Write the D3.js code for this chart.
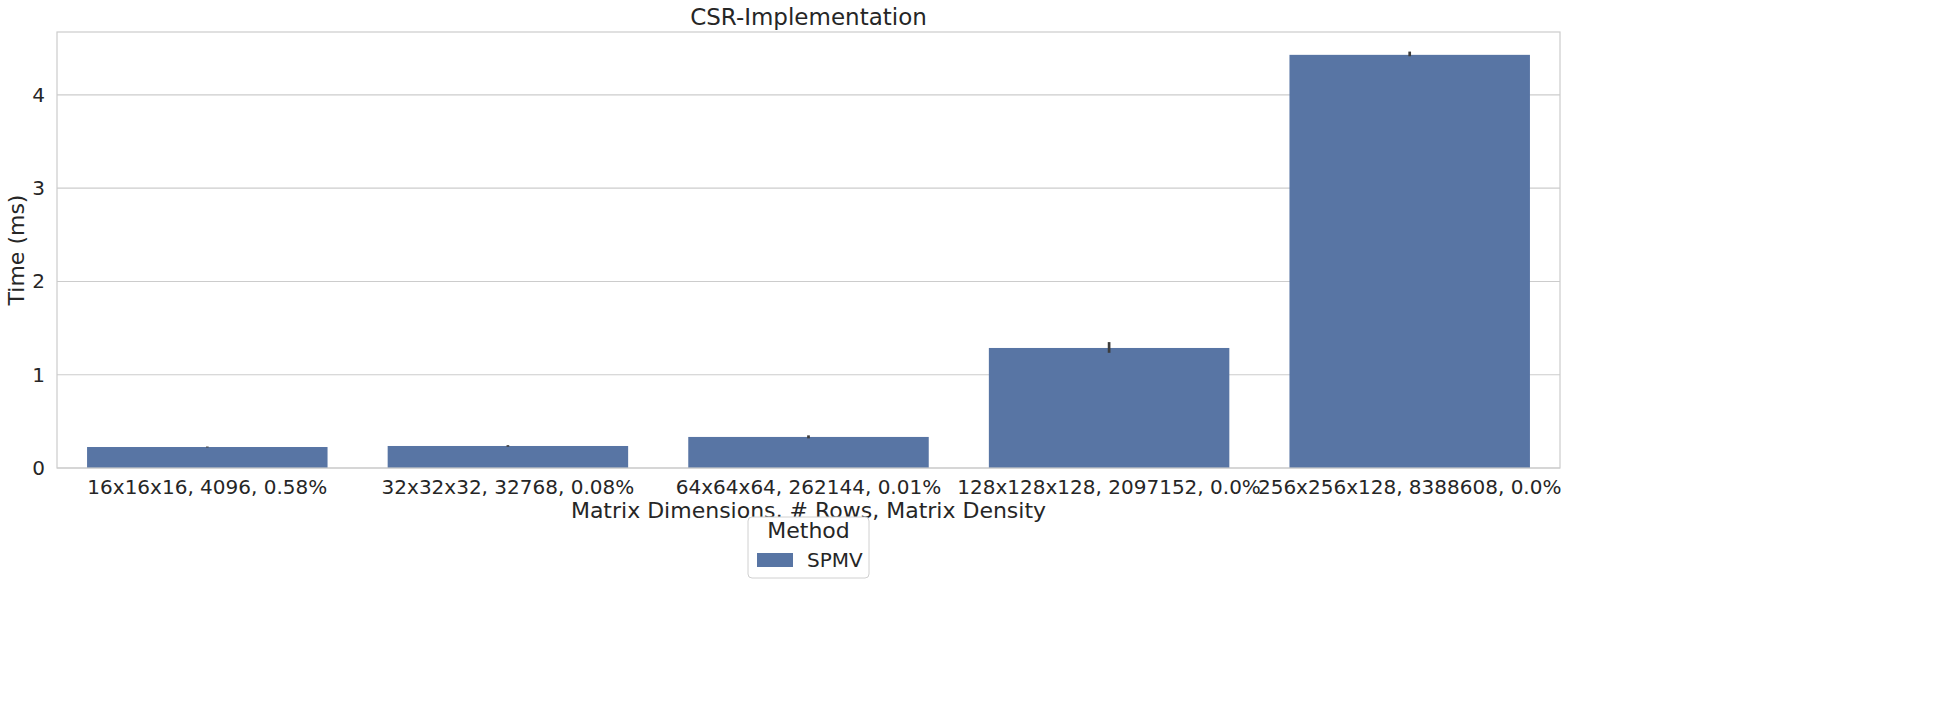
<!DOCTYPE html>
<html><head><meta charset="utf-8">
<script src="https://cdn.jsdelivr.net/npm/d3@7"></script>
<style>body{margin:0;background:#fff;font-family:"DejaVu Sans",sans-serif;}</style>
</head><body><div id="chart"></div>
<script>
// values
const categories = ["16x16x16, 4096, 0.58%", "32x32x32, 32768, 0.08%", "64x64x64, 262144, 0.01%",
  "128x128x128, 2097152, 0.0%", "256x256x128, 8388608, 0.0%"];
const times = [0.225, 0.236, 0.333, 1.287, 4.43];
const errLow = [0.22, 0.228, 0.318, 1.235, 4.415];
const errHigh = [0.23, 0.245, 0.35, 1.35, 4.465];
const yTicks = [0, 1, 2, 3, 4];

const width = 1939, height = 725,
  margin = { top: 32, right: 379, bottom: 257, left: 57 },
  plotW = 1560 - margin.left, plotH = 468 - margin.top,
  barColor = "#5875a4";

const svg = d3.select("#chart").append("svg")
  .attr("width", width).attr("height", height);
const g = svg.append("g").attr("transform", `translate(${margin.left},${margin.top})`);

const x = d3.scaleBand().domain(categories).range([0, plotW]).paddingInner(0.2).paddingOuter(0.1);
const y = d3.scaleLinear().domain([0, 4.675]).range([plotH, 0]);

// grid
g.selectAll(".grid").data(yTicks).enter().append("line")
  .attr("x1", 0).attr("x2", plotW)
  .attr("y1", d => y(d)).attr("y2", d => y(d))
  .attr("stroke", "#cccccc").attr("stroke-width", 1.2);

g.selectAll(".bar").data(times).enter().append("rect")
  .attr("x", (d, i) => x(categories[i]))
  .attr("width", x.bandwidth())
  .attr("y", d => y(d)).attr("height", d => plotH - y(d))
  .attr("fill", barColor);

g.selectAll(".err").data(times).enter().append("line")
  .attr("x1", (d, i) => x(categories[i]) + x.bandwidth() / 2)
  .attr("x2", (d, i) => x(categories[i]) + x.bandwidth() / 2)
  .attr("y1", (d, i) => y(errLow[i])).attr("y2", (d, i) => y(errHigh[i]))
  .attr("stroke", "#3d3d3d").attr("stroke-width", 2.7);

// frame
g.append("rect").attr("width", plotW).attr("height", plotH)
  .attr("fill", "none").attr("stroke", "#cccccc").attr("stroke-width", 1.2);

const yAxis = g.append("g").call(d3.axisLeft(y).tickValues(yTicks).tickFormat(d3.format("d")).tickSize(0).tickPadding(12));
const xAxis = g.append("g").attr("transform", `translate(0,${plotH})`)
  .call(d3.axisBottom(x).tickSize(0).tickPadding(12));
[yAxis, xAxis].forEach(a => {
  a.select(".domain").remove();
  a.selectAll("text").attr("font-size", 20).attr("fill", "#262626").attr("font-family", "DejaVu Sans");
});

svg.append("text").attr("x", margin.left + plotW / 2).attr("y", 25)
  .attr("text-anchor", "middle").attr("font-size", 23).attr("fill", "#262626").text("CSR-Implementation");
svg.append("text").attr("x", margin.left + plotW / 2).attr("y", 518)
  .attr("text-anchor", "middle").attr("font-size", 22).attr("fill", "#262626")
  .text("Matrix Dimensions, # Rows, Matrix Density");
svg.append("text").attr("transform", `translate(24,${margin.top + plotH / 2}) rotate(-90)`)
  .attr("text-anchor", "middle").attr("font-size", 22).attr("fill", "#262626").text("Time (ms)");

// legend
const lg = svg.append("g").attr("transform", "translate(748,517)");
lg.append("rect").attr("width", 121).attr("height", 61).attr("rx", 4)
  .attr("fill", "#fff").attr("stroke", "#d0d0d0");
lg.append("text").attr("x", 60.5).attr("y", 21).attr("text-anchor", "middle")
  .attr("font-size", 22).attr("fill", "#262626").text("Method");
lg.append("rect").attr("x", 9).attr("y", 36).attr("width", 36).attr("height", 14).attr("fill", barColor);
lg.append("text").attr("x", 59).attr("y", 50).attr("font-size", 20).attr("fill", "#262626").text("SPMV");
</script></body></html>
